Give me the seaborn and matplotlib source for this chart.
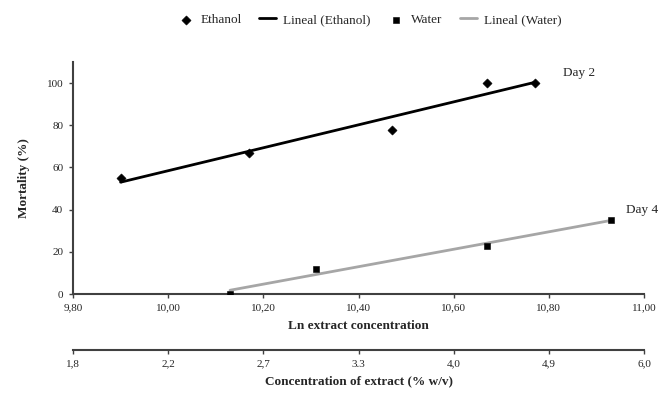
import numpy as np
import pandas as pd
import matplotlib.pyplot as plt
import seaborn as sns

# Mortality (%) against ln of extract concentration
ethanol_ln = [9.90, 10.17, 10.47, 10.67, 10.77]
ethanol_mortality = [55, 67, 78, 100, 100]
water_ln = [10.13, 10.31, 10.67, 10.93]
water_mortality = [0, 12, 23, 35]

ln_ticks = [9.80, 10.00, 10.20, 10.40, 10.60, 10.80, 11.00]
ln_labels = ["9,80", "10,00", "10,20", "10,40", "10,60", "10,80", "11,00"]
conc_labels = ["1,8", "2,2", "2,7", "3.3", "4,0", "4,9", "6,0"]
mortality_ticks = [0, 20, 40, 60, 80, 100]

sns.set_style("ticks")
plt.rcParams["font.family"] = ["Liberation Serif", "DejaVu Serif"]

axis_col = "#404040"

fig = plt.figure(figsize=(6.71, 3.97), dpi=100)
ax = fig.add_axes([0.1088, 0.2594, 0.851, 0.5844])

sns.scatterplot(x=ethanol_ln, y=ethanol_mortality, marker="D", s=22,
                color="black", edgecolor="black", label="Ethanol", ax=ax, zorder=3)
sns.regplot(x=ethanol_ln, y=ethanol_mortality, scatter=False, ci=None,
            color="black", line_kws={"lw": 2}, label="Lineal (Ethanol)", ax=ax)
sns.scatterplot(x=water_ln, y=water_mortality, marker="s", s=25,
                color="black", edgecolor="black", label="Water", ax=ax, zorder=3)
sns.regplot(x=water_ln, y=water_mortality, scatter=False, ci=None,
            color="#a6a6a6", line_kws={"lw": 2}, label="Lineal (Water)", ax=ax)

ax.set_xlim(9.8, 11.0)
ax.set_ylim(0, 110)
ax.set_xticks(ln_ticks, labels=ln_labels)
ax.set_yticks(mortality_ticks)
sns.despine(ax=ax)
for side in ["left", "bottom"]:
    ax.spines[side].set_color(axis_col)
    ax.spines[side].set_linewidth(1.5)
ax.tick_params(length=3, width=1, color=axis_col, labelsize=8, pad=4)

ax.set_xlabel("Ln extract concentration", fontsize=9.5, fontweight="bold", labelpad=5)
ax.set_ylabel("Mortality (%)", fontsize=9.5, fontweight="bold", labelpad=12)

ax.text(10.83, 105, "Day 2", fontsize=9.5, va="center")
ax.text(10.962, 40, "Day 4", fontsize=9.5, va="center")

# second x axis with the untransformed concentration
sec = ax.secondary_xaxis(-0.241)
sec.set_xticks(ln_ticks, labels=conc_labels)
sec.spines["bottom"].set_color(axis_col)
sec.spines["bottom"].set_linewidth(1.5)
sec.tick_params(length=3, width=1, color=axis_col, labelsize=8, pad=4)
sec.set_xlabel("Concentration of extract (% w/v)", fontsize=9.5, fontweight="bold", labelpad=5)

handles, labels = ax.get_legend_handles_labels()
ax.get_legend().remove()
fig.legend(handles, labels, loc="center", bbox_to_anchor=(0.55, 0.95), ncol=4,
           frameon=False, fontsize=9.5, handlelength=1.3, columnspacing=1.3,
           handletextpad=0.5)

fig.savefig("out.png", dpi=100)
